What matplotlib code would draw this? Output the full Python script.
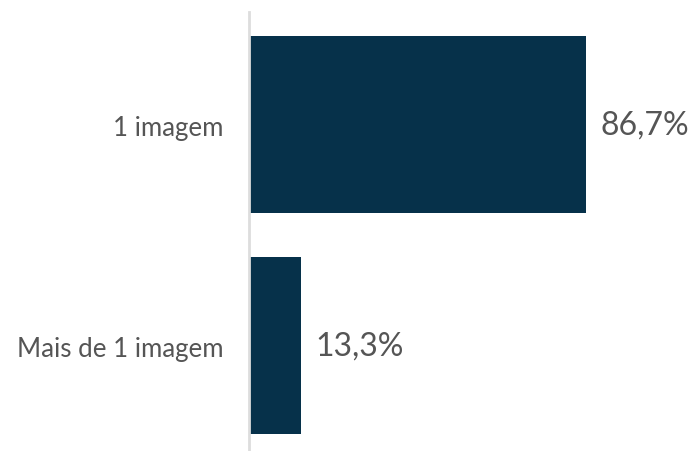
import matplotlib.pyplot as plt

categorias = ['1 imagem', 'Mais de 1 imagem']
percentuais = [86.7, 13.3]
rotulos = ['86,7%', '13,3%']

plt.rcParams['font.family'] = ['Lato', 'DejaVu Sans']

fig = plt.figure(figsize=(6.92, 4.52), dpi=100)
ax = fig.add_axes([249 / 692, 0, 443 / 692, 1 - 13 / 452])

y = range(len(categorias))
barras = ax.barh(y, percentuais, height=0.8, color='#06314a')

for barra, rotulo in zip(barras, rotulos):
    ax.text(barra.get_width() + 3.8, barra.get_y() + barra.get_height() / 2,
            rotulo, va='center', ha='left', fontsize=23, color='#555555')

ax.set_yticks(list(y))
ax.set_yticklabels(categorias, fontsize=18.6, color='#555555')
ax.tick_params(axis='y', length=0, pad=18.5)
ax.set_xticks([])
ax.set_xlim(0, 114.0)
ax.set_ylim(1.476, -0.509)

for lado in ['top', 'right', 'bottom']:
    ax.spines[lado].set_visible(False)
ax.spines['left'].set_color('#dddddd')
ax.spines['left'].set_linewidth(2)

fig.savefig('out.png', dpi=100)
